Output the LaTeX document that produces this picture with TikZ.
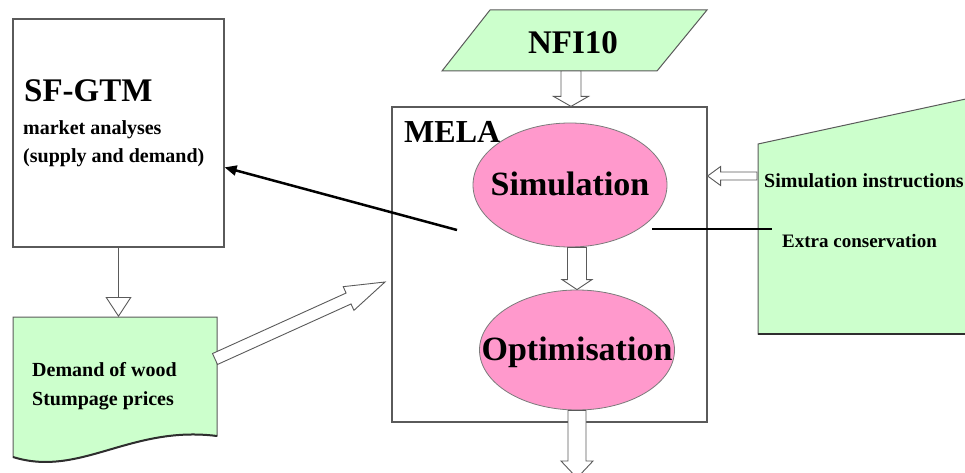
\documentclass[tikz,border=0pt]{standalone}
\usepackage{fontspec}
\setmainfont{Liberation Serif}
\usetikzlibrary{calc,arrows.meta,shapes.geometric}
\definecolor{lgreen}{HTML}{CCFFCC}
\definecolor{pinkfill}{HTML}{FF99CC}
\definecolor{edgegray}{HTML}{5A5A5A}
\definecolor{darkedge}{HTML}{2E2E2E}
% block arrow: #1 start, #2 tip, #3 shaft half width, #4 head half width, #5 head length
\newcommand{\blk}[5]{%
  \coordinate (bh) at ($(#2)!#5!(#1)$);
  \draw[blockarrow] ($(#1)!#3!90:(#2)$) -- ($(bh)!#3!-90:(#1)$) -- ($(bh)!#4!-90:(#1)$) -- (#2)
    -- ($(bh)!#4!90:(#1)$) -- ($(bh)!#3!90:(#1)$) -- ($(#1)!#3!-90:(#2)$) -- cycle;}
\begin{document}
\begin{tikzpicture}[x=1pt,y=-1pt,
  box/.style={draw=edgegray, line width=1.2pt, fill=white},
  ellip/.style={ellipse, draw=edgegray!80, line width=0.8pt, fill=pinkfill, inner sep=0pt},
  bigtxt/.style={font=\fontsize{34}{40}\selectfont\bfseries, inner sep=0pt},
  smalltxt/.style={font=\fontsize{20}{24}\selectfont\bfseries, inner sep=0pt, anchor=west},
  blockarrow/.style={draw=edgegray, line width=0.9pt, fill=white, line join=miter},
  greenshape/.style={draw=edgegray, line width=1pt, fill=lgreen},
  shadowedge/.style={draw=darkedge, line width=2pt}]
\useasboundingbox (0,0) rectangle (965,473);

% SF-GTM box
\node[box, minimum width=211pt, minimum height=228pt, inner sep=0pt] (sf) at (118.5,133) {};
\node[bigtxt, font=\fontsize{33}{40}\selectfont\bfseries, anchor=west] (sftitle) at (24,91) {SF-GTM};
\node[smalltxt] (sfl1) at (23,130) {market analyses};
\node[smalltxt] (sfl2) at (23,158) {(supply and demand)};

% Document shape
\draw[greenshape] (13,317) -- (217,317) -- (217,436) .. controls (130,425) and (80,478) .. (13,457) -- cycle;
\draw[shadowedge] (217,436) .. controls (130,425) and (80,478) .. (13,457);
\node[smalltxt] (doc1) at (32,370) {Demand of wood};
\node[smalltxt] (doc2) at (32,401) {Stumpage prices};

% MELA box
\node[box, minimum width=315pt, minimum height=315pt, inner sep=0pt] (mela) at (549.5,264.5) {};
\node[bigtxt, font=\fontsize{32}{40}\selectfont\bfseries, anchor=west] (melat) at (404,132) {MELA};

% Ellipses
\node[ellip, minimum width=194pt, minimum height=124pt] (sim) at (570,185) {};
\node[bigtxt] (simt) at (570,184) {Simulation};
\node[ellip, minimum width=195pt, minimum height=120pt] (opt) at (577,350) {};
\node[bigtxt] (optt) at (577,352) {Optimisation};

% NFI10 parallelogram
\draw[greenshape] (490,10) -- (707,10) -- (657,71) -- (442,71) -- cycle;
\node[bigtxt, font=\fontsize{33}{40}\selectfont\bfseries] (nfi) at (573,43) {NFI10};

% Manual input shape
\draw[greenshape] (758,144) -- (975,97) -- (975,334) -- (758,334) -- cycle;
\draw[shadowedge] (758,334) -- (975,334);
\node[smalltxt] (simins) at (764,181) {Simulation instructions};
\node[smalltxt, font=\fontsize{19}{24}\selectfont\bfseries] (extra) at (782,241) {Extra conservation};

% Block arrows
\coordinate (nfiout) at (571,71);
\coordinate (nfiin) at (mela.north -| nfiout);
\blk{nfiout}{nfiin}{10pt}{17.5pt}{10pt}

\coordinate (s2) at (opt.north |- sim.south);
\blk{s2}{opt.north}{9.5pt}{15pt}{10pt}

\coordinate (melaout) at (577,478);
\blk{opt.south}{melaout}{9pt}{16pt}{17pt}

\coordinate (miout) at (757,176);
\coordinate (miin) at (mela.east |- miout);
\blk{miout}{miin}{4pt}{9.5pt}{13pt}

\coordinate (docout) at (215,359);
\coordinate (melain) at (385,282);
\blk{docout}{melain}{6pt}{13pt}{40pt}

% SF-GTM to document
\coordinate (doctop) at (118.5,317);
\draw[draw=edgegray, line width=1.2pt, -{Triangle[open, width=26pt, length=20pt, line width=0.9pt]}] (sf.south) -- (doctop);

% Simulation to SF-GTM
\coordinate (simleft) at (457,230);
\coordinate (sfin) at ($(sf.north east)!0.65!(sf.south east)$);
\draw[black, line width=2.5pt, -{Triangle[width=10pt, length=12pt]}] (simleft) -- (sfin);

% Simulation to Extra conservation
\coordinate (simright) at (652,229);
\coordinate (extraend) at (772,229);
\draw[black, line width=2pt] (simright) -- (extraend);
\end{tikzpicture}
\end{document}
